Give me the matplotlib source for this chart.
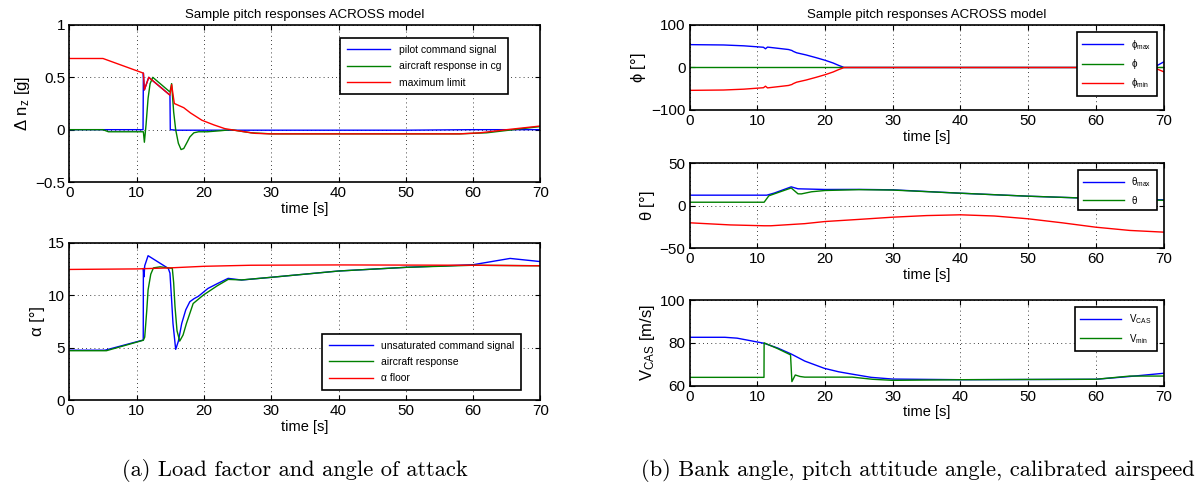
import matplotlib
matplotlib.use('Agg')
import matplotlib.pyplot as plt

plt.rcParams['font.family'] = ['Liberation Sans', 'DejaVu Sans']
plt.rcParams['mathtext.fontset'] = 'custom'
plt.rcParams['mathtext.rm'] = 'Liberation Sans'
plt.rcParams['mathtext.it'] = 'Liberation Sans'
plt.rcParams['mathtext.sf'] = 'Liberation Sans'
plt.rcParams['mathtext.fallback'] = 'cm'

BLUE, GREEN, RED = '#0000ff', '#008000', '#ff0000'
TITLE = 'Sample pitch responses ACROSS model'

# ---- load factor (a, top) ----
nz_cmd_t = [0, 10.95, 11.0, 11.15, 11.8, 14.95, 15.0, 16, 20, 30, 50, 60, 70]
nz_cmd_v = [0, 0, 0.54, 0.38, 0.50, 0.33, 0.0, -0.005, -0.005, -0.005, -0.005, 0, 0]

nz_ac_t = [0, 5.0, 5.8, 11.0, 11.15, 11.4, 11.7, 12.0, 12.4, 14.95, 15.2, 15.5, 15.8, 16.2,
           16.6, 17.0, 17.5, 17.9, 18.5, 19.2, 20.5, 22.5, 24, 27, 30, 40, 50, 58, 62, 66, 70]
nz_ac_v = [0, 0, -0.02, -0.02, -0.12, 0.05, 0.30, 0.44, 0.50, 0.36, 0.44, 0.17, 0.0, -0.13,
           -0.19, -0.18, -0.12, -0.07, -0.03, -0.02, -0.02, -0.01, 0.0, -0.03, -0.04, -0.04,
           -0.04, -0.04, -0.03, 0.0, 0.03]

nz_max_t = [0, 5.0, 11.0, 11.15, 11.8, 14.95, 15.2, 15.6, 16.3, 17.0, 18.0, 19.7, 21.5,
            23.1, 25, 27.6, 30, 40, 50, 58, 61, 65, 70]
nz_max_v = [0.68, 0.68, 0.54, 0.38, 0.50, 0.33, 0.43, 0.25, 0.23, 0.21, 0.16, 0.09, 0.045,
            0.01, -0.01, -0.035, -0.04, -0.04, -0.04, -0.04, -0.03, 0.0, 0.035]

# ---- angle of attack (a, bottom) ----
al_cmd_t = [0, 5.3, 10.98, 11.0, 11.1, 11.2, 11.7, 14.7, 14.95, 15.2, 15.4, 15.8, 16.2,
            16.7, 17.3, 17.9, 18.5, 19.2, 20.6, 22, 23.6, 25.6, 30, 40, 50, 60, 65.5, 70]
al_cmd_v = [4.75, 4.75, 5.72, 12.55, 11.75, 12.8, 13.76, 12.55, 12.1, 9.5, 7.3, 4.83, 5.6,
            7.3, 8.6, 9.37, 9.65, 9.9, 10.64, 11.1, 11.6, 11.44, 11.7, 12.3, 12.65, 12.9,
            13.5, 13.2]

al_ac_t = [0, 5.5, 11.0, 11.2, 11.5, 11.7, 12.1, 12.5, 13.5, 15.3, 15.5, 15.7, 16.0, 16.4,
           16.9, 17.4, 18.4, 19.9, 22, 23.6, 25.6, 30, 40, 50, 60, 70]
al_ac_v = [4.7, 4.7, 5.7, 6.0, 8.5, 10.5, 12.0, 12.6, 12.7, 12.55, 11.2, 8.9, 6.6, 5.62,
           6.2, 7.3, 9.2, 10.0, 10.9, 11.5, 11.45, 11.7, 12.3, 12.65, 12.85, 12.8]

al_floor_t = [0, 10, 15, 20, 27, 40, 60, 70]
al_floor_v = [12.45, 12.5, 12.6, 12.75, 12.85, 12.88, 12.85, 12.8]

# ---- bank angle (b, top) ----
phi_max_t = [0, 5, 8, 10.9, 11.2, 11.5, 14.6, 15.1, 15.3, 15.8, 17.2, 18.7, 20.0, 21.2,
             22.0, 22.5, 22.8, 68.5, 70]
phi_max_v = [53.8, 53, 51, 47.6, 44, 48, 42.3, 40, 38, 34.6, 29.5, 23, 17, 10.5, 5, 2, 0, 0, 13]
phi_min_t = phi_max_t
phi_min_v = [-53.8, -53, -51, -47.6, -44, -48, -42.3, -40, -38, -34.6, -29.5, -23, -17,
             -10.5, -5, -2, 0, 0, -10]
phi_t = [0, 70]
phi_v = [0, 0]

# ---- pitch attitude (b, middle) ----
th_max_t = [0, 11.4, 12.5, 15.0, 16.0, 20, 25, 30, 40, 50, 60, 70]
th_max_v = [12.5, 12.5, 15, 22.3, 20, 19.2, 19.3, 18.8, 14.8, 11.3, 8.6, 7]
th_t = [0, 11.0, 11.7, 15.0, 16.0, 16.5, 18, 20, 25, 30, 40, 50, 60, 70]
th_v = [4.2, 4.2, 11.8, 21, 14.1, 14, 16.5, 18, 19, 18.5, 14.8, 11.3, 8.6, 6.5]
th_min_t = [0, 6, 11, 12, 17, 20, 25, 30, 35, 40, 45, 50, 55, 60, 65, 70]
th_min_v = [-20, -22.5, -23.5, -23.5, -21, -18.5, -16, -13.4, -11.5, -10.6, -12, -15.3,
            -20, -25.2, -29, -31]

# ---- calibrated airspeed (b, bottom) ----
vcas_t = [0, 5.2, 7, 9, 11, 13, 15, 17, 19.9, 22, 23.8, 26.8, 30, 40, 50, 60, 65, 70]
vcas_v = [82.6, 82.6, 82.2, 81.0, 79.8, 77.6, 74.8, 71.5, 68.1, 66.5, 65.5, 63.9, 63.1,
          62.8, 62.9, 63.0, 64.3, 65.8]
vmin_t = [0, 10.98, 11.0, 13, 14.9, 15.1, 15.6, 16.3, 17, 24, 27, 30, 40, 50, 60, 65, 70]
vmin_v = [63.9, 63.9, 80, 77.3, 74.4, 61.9, 65, 64.3, 64, 64, 63, 62.5, 62.8, 62.9, 63,
          64.5, 64.5]


def style(ax, ylim, yticks, ylabel):
    ax.set_xlim(0, 70)
    ax.set_ylim(*ylim)
    ax.set_xticks(range(0, 71, 10))
    ax.set_yticks(yticks)
    ax.grid(True, color='black', linestyle=(0, (1, 4)), linewidth=0.6)
    ax.tick_params(direction='in', top=True, right=True, length=3.5, width=0.8,
                   labelsize=11, pad=3)
    for s in ax.spines.values():
        s.set_linewidth(1.2)
    ax.set_xlabel('time [s]', fontsize=10.5, labelpad=1)
    ax.set_ylabel(ylabel, fontsize=12, labelpad=2)


def legend(ax, anchor, size=7.5, **kw):
    leg = ax.legend(loc='upper right', bbox_to_anchor=anchor, fontsize=size,
                    handlelength=4.2, fancybox=False, framealpha=1,
                    edgecolor='black', borderaxespad=0, **kw)
    leg.get_frame().set_linewidth(1.2)
    return leg


fig = plt.figure(figsize=(12, 4.95), dpi=100)
lw = 1.0

ax1 = fig.add_axes([0.0578, 0.6323, 0.3925, 0.3172])
ax1.plot(nz_cmd_t, nz_cmd_v, color=BLUE, lw=lw, label='pilot command signal')
ax1.plot(nz_ac_t, nz_ac_v, color=GREEN, lw=lw, label='aircraft response in cg')
ax1.plot(nz_max_t, nz_max_v, color=RED, lw=lw, label='maximum limit')
style(ax1, (-0.5, 1), [-0.5, 0, 0.5, 1], r'$\Delta$ n$_z$ [g]')
ax1.set_yticklabels(['\u22120.5', '0', '0.5', '1'])
ax1.set_title(TITLE, fontsize=9.5, pad=5)
legend(ax1, (0.931, 0.915), labelspacing=0.6, borderpad=0.65)

ax2 = fig.add_axes([0.0578, 0.1919, 0.3925, 0.3178])
ax2.plot(al_cmd_t, al_cmd_v, color=BLUE, lw=lw, label='unsaturated command signal')
ax2.plot(al_ac_t, al_ac_v, color=GREEN, lw=lw, label='aircraft response')
ax2.plot(al_floor_t, al_floor_v, color=RED, lw=lw, label='\u03b1 floor')
style(ax2, (0, 15), [0, 5, 10, 15], '\u03b1 [\u00b0]')
legend(ax2, (0.959, 0.42), labelspacing=0.6, borderpad=0.65)

ax3 = fig.add_axes([0.5747, 0.7778, 0.395, 0.1717])
ax3.plot(phi_max_t, phi_max_v, color=BLUE, lw=lw, label=r'$\phi_{\mathrm{max}}$')
ax3.plot(phi_t, phi_v, color=GREEN, lw=lw, label=r'$\phi$')
ax3.plot(phi_min_t, phi_min_v, color=RED, lw=lw, label=r'$\phi_{\mathrm{min}}$')
style(ax3, (-100, 100), [-100, 0, 100], r'$\phi$ [' + '\u00b0]')
ax3.set_yticklabels(['\u2212100', '0', '100'])
ax3.set_title(TITLE, fontsize=9.5, pad=5)
legend(ax3, (0.985, 0.914), size=7, labelspacing=0.55, borderpad=0.55)

ax4 = fig.add_axes([0.5747, 0.4984, 0.395, 0.1717])
ax4.plot(th_max_t, th_max_v, color=BLUE, lw=lw, label=r'$\theta_{\mathrm{max}}$')
ax4.plot(th_t, th_v, color=GREEN, lw=lw, label=r'$\theta$')
ax4.plot(th_min_t, th_min_v, color=RED, lw=lw)
style(ax4, (-50, 50), [-50, 0, 50], r'$\theta$ [' + '\u00b0]')
ax4.set_yticklabels(['\u221250', '0', '50'])
legend(ax4, (0.985, 0.92), size=7, labelspacing=0.5, borderpad=0.5)

ax5 = fig.add_axes([0.5747, 0.2208, 0.395, 0.1731])
ax5.plot(vcas_t, vcas_v, color=BLUE, lw=lw, label=r'V$_{\mathrm{CAS}}$')
ax5.plot(vmin_t, vmin_v, color=GREEN, lw=lw, label=r'V$_{\mathrm{min}}$')
style(ax5, (60, 100), [60, 80, 100], r'V$_{\mathrm{CAS}}$ [m/s]')
legend(ax5, (0.985, 0.92), size=7, labelspacing=0.6, borderpad=0.55)

fig.text(0.246, 0.05, '(a) Load factor and angle of attack', family='cmr10',
         fontsize=16.2, ha='center', va='center')
fig.text(0.765, 0.05, '(b) Bank angle, pitch attitude angle, calibrated airspeed',
         family='cmr10', fontsize=16.2, ha='center', va='center')

fig.savefig('out.png', dpi=100)
